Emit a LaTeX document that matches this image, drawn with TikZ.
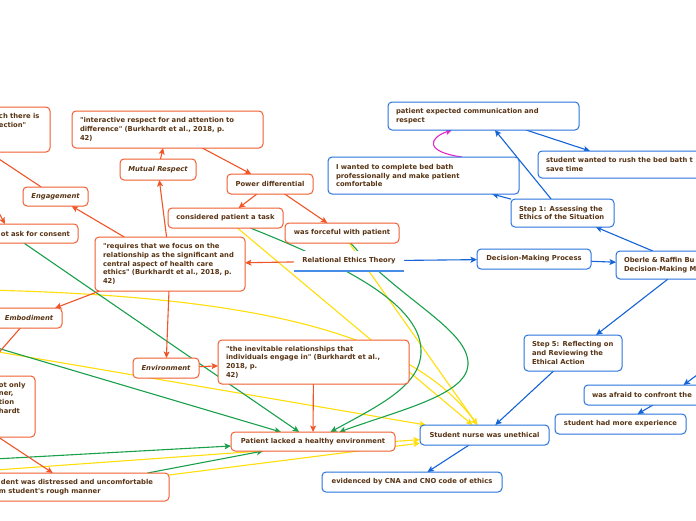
\documentclass[tikz,border=0pt]{standalone}
\usepackage{fontspec}
\setmainfont{DejaVu Sans}
\usetikzlibrary{arrows.meta,calc}
\pgfdeclarelayer{back}
\pgfdeclarelayer{edges}
\pgfsetlayers{back,edges,main}
\definecolor{txt}{RGB}{88,52,20}
\definecolor{orb}{RGB}{240,95,50}
\definecolor{ora}{RGB}{240,85,40}
\definecolor{blb}{RGB}{40,115,220}
\definecolor{bll}{RGB}{70,140,232}
\definecolor{bla}{RGB}{20,100,215}
\definecolor{gra}{RGB}{25,160,75}
\definecolor{yea}{RGB}{255,222,10}
\definecolor{maa}{RGB}{225,40,200}
\begin{document}
\begin{tikzpicture}[x=1pt,y=-1pt,
  base/.style={rounded corners=4pt, fill=white, line width=1pt, text=txt,
    font=\fontsize{6.8}{8.75}\selectfont\bfseries, inner xsep=8pt, inner ysep=1pt,
    anchor=north west, outer sep=0pt},
  obox/.style={base, draw=orb},
  bbox/.style={base, draw=blb},
  itl/.style={font=\fontsize{6.8}{8.75}\selectfont\bfseries\itshape},
  tipp/.style={-{Stealth[length=6.5pt,width=6pt,inset=1.5pt]}},
  oarr/.style={draw=ora, line width=1.1pt, tipp},
  barr/.style={draw=bla, line width=1.1pt, tipp},
  garr/.style={draw=gra, line width=1.1pt, tipp},
  yarr/.style={draw=yea, line width=1.1pt, tipp},
  marr/.style={draw=maa, line width=1.1pt, tipp}]
\path[use as bounding box] (0,0) rectangle (696,520);
\begin{pgfonlayer}{back}
\fill[white] (0,0) rectangle (696,520);
\end{pgfonlayer}
\clip (0,0) rectangle (696,520);

% ---------- orange nodes ----------
\node[obox, text width=175pt, minimum height=45pt, align=left] (tl) at (-141,107)
  {\mbox{\hspace{132pt}ch there is}\\\mbox{\hspace{132pt}ection\textquotedbl}\\\mbox{}\\\mbox{}};
\node[obox, text width=120pt, minimum height=19pt, align=right] (consent) at (-58,224) {ot ask for consent};
\node[obox, itl, minimum width=65pt, minimum height=19pt] (eng) at (23,187) {Engagement};
\node[obox, text width=175pt, minimum height=37pt, align=left] (inter) at (72,111)
  {\mbox{\textquotedbl interactive respect for and attention to}\\\mbox{difference\textquotedbl\ (Burkhardt et al., 2018, p.}\\42)};
\node[obox, itl, minimum width=76pt, minimum height=21pt] (mutual) at (120,159) {Mutual Respect};
\node[obox, minimum width=86pt, minimum height=20pt] (power) at (227,174) {Power differential};
\node[obox, minimum width=115pt, minimum height=20pt] (task) at (168,208) {considered patient a task};
\node[obox, minimum width=114pt, minimum height=20pt] (forceful) at (285,223) {was forceful with patient};
\node[obox, text width=134pt, minimum height=54pt, align=left] (requires) at (95,237)
  {\mbox{\textquotedbl requires that we focus on the}\\\mbox{relationship as the significant and}\\\mbox{central aspect of health care}\\\mbox{ethics\textquotedbl\ (Burkhardt et al., 2018, p.}\\42)};
\node[obox, itl, minimum width=66pt, minimum height=20pt] (embod) at (-4,308) {Embodiment};
\node[obox, itl, minimum width=66pt, minimum height=20pt] (env) at (133,358) {Environment};
\node[obox, text width=175pt, minimum height=44pt, align=left] (inevit) at (218,340)
  {\mbox{\textquotedbl the inevitable relationships that}\\\mbox{individuals engage in\textquotedbl\ (Burkhardt et al.,}\\2018, p.\\42)};
\node[obox, text width=150pt, minimum height=61pt, align=left] (notonly) at (-131,376)
  {\mbox{\hspace{122pt}ot only}\\\mbox{\hspace{122pt}ner,}\\\mbox{\hspace{122pt}tion}\\\mbox{\hspace{122pt}hardt}\\\mbox{}\\\mbox{}};
\node[obox, text width=174pt, minimum height=28pt, align=left] (distress) at (-21,473)
  {\mbox{\hspace{14pt}dent was distressed and uncomfortable}\\\mbox{\hspace{12pt}m student\textquotesingle s rough manner}};
\node[obox, minimum width=164pt, minimum height=19pt] (lacked) at (231,432) {Patient lacked a healthy environment};

% ---------- blue nodes ----------
\node[bbox, text width=175pt, minimum height=28pt, align=left] (expected) at (388,102)
  {\mbox{patient expected communication and}\\respect};
\node[bbox, text width=170pt, minimum height=27pt, align=left] (rush) at (538,151)
  {\mbox{student wanted to rush the bed bath t}\\save time};
\node[bbox, text width=175pt, minimum height=37pt, align=left] (iwanted) at (328,157)
  {\mbox{I wanted to complete bed bath}\\\mbox{professionally and make patient}\\comfortable};
\node[bbox, text width=87pt, minimum height=28pt, align=left] (step1) at (511,199)
  {\mbox{Step 1: Assessing the}\\\mbox{Ethics of the Situation}};
\node[bbox, minimum width=114pt, minimum height=20pt] (decision) at (477,249) {Decision-Making Process};
\node[bbox, text width=124pt, minimum height=28pt, align=left] (oberle) at (616,251)
  {\mbox{Oberle \& Raffin Bu}\\\mbox{Decision-Making M}};
\node[bbox, text width=82pt, minimum height=36pt, align=left] (step5) at (524,335)
  {\mbox{Step 5: Reflecting on}\\\mbox{and Reviewing the}\\Ethical Action};
\node[bbox, text width=156pt, minimum height=20pt, align=left] (afraid) at (584,385) {was afraid to confront the};
\node[bbox, minimum width=131pt, minimum height=20pt] (experience) at (555,414) {student had more experience};
\node[bbox, minimum width=129pt, minimum height=20pt] (nurse) at (420,425) {Student nurse was unethical};
\node[bbox, minimum width=180pt, minimum height=20pt] (evidenced) at (322,472) {evidenced by CNA and CNO code of ethics};

\node[base, draw=none, minimum width=110pt, minimum height=20pt] (rel) at (294,251) {Relational Ethics Theory};
\draw[draw=bll, line width=1.4pt] (rel.south west) -- (rel.south east);

% off-canvas ends
\coordinate (ysrcA) at (-80,289);
\coordinate (ysrcB) at (-60,342);
\coordinate (ysrcC) at (-60,474);
\coordinate (gsrcA) at (-60,331);
\coordinate (gsrcB) at (-60,462);
\coordinate (bsrc) at (720,358);

\begin{pgfonlayer}{edges}
\clip (0,0) rectangle (696,520);
% yellow
\draw[yarr] (ysrcA) .. controls (200,291) and (400,318) .. (nurse);
\draw[yarr] (task) -- (nurse);
\draw[yarr] (forceful) -- (nurse);
\draw[yarr] (ysrcB) -- (nurse);
\draw[yarr] (ysrcC) -- (nurse);
\draw[yarr] (distress) -- (nurse);
% green
\draw[garr] (task) .. controls (330,260) and (420,300) .. (421,350) .. controls (422,385) and (380,405) .. (lacked);
\draw[garr] (forceful) .. controls (400,300) and (470,330) .. (468,365) .. controls (466,395) and (400,410) .. (lacked);
\draw[garr] (consent) -- (lacked);
\draw[garr] (gsrcA) -- (lacked);
\draw[garr] (gsrcB) -- (lacked);
\draw[garr] (distress) -- (lacked);
% orange
\draw[oarr] (rel) -- (requires);
\draw[oarr] (requires) -- (eng);
\draw[oarr] (requires) -- (mutual);
\draw[oarr] (mutual) -- (inter);
\draw[oarr] (inter) -- (power);
\draw[oarr] (power) -- (task);
\draw[oarr] (power) -- (forceful);
\draw[oarr] (requires) -- (embod);
\draw[oarr] (requires) -- (env);
\draw[oarr] (env) -- (inevit);
\draw[oarr] (inevit) -- (lacked);
\draw[oarr] (eng) -- (tl);
\draw[oarr] (tl) -- (consent);
\draw[oarr] (embod) -- (notonly);
\draw[oarr] (notonly) -- (distress);
% blue
\draw[barr] (rel) -- (decision);
\draw[barr] (decision) -- (oberle);
\draw[barr] (oberle) -- (step1);
\draw[barr] (oberle) -- (step5);
\draw[barr] (step1) -- (iwanted);
\draw[barr] (step1) -- (expected);
\draw[barr] (expected) -- (rush);
\draw[barr] (step5) -- (nurse);
\draw[barr] (bsrc) -- (afraid);
\draw[barr] (afraid) -- (experience);
\draw[barr] (nurse) -- (evidenced);
% magenta
\draw[marr] ($(iwanted.north)+(38.5,0)$) .. controls (425,152) and (428,138) .. ($(expected.south)+(-31.5,0)$);
\end{pgfonlayer}
\end{tikzpicture}
\end{document}
